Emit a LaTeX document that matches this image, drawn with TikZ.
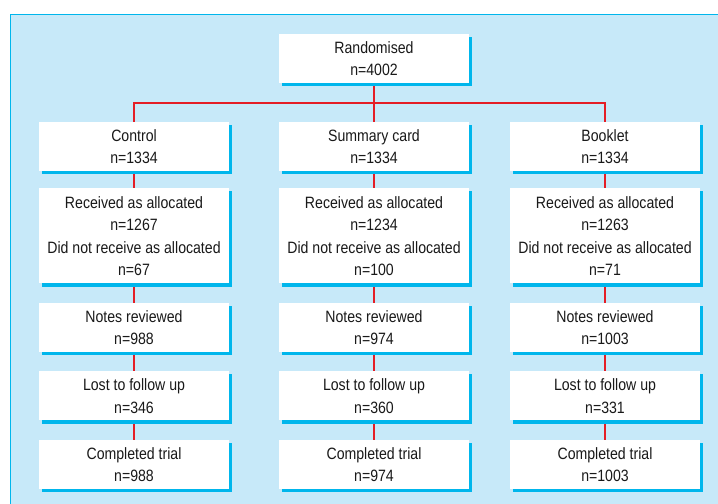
\documentclass[tikz,border=0pt]{standalone}
\usepackage{fontspec}
\setmainfont{Liberation Sans}[FakeStretch=0.86]
\usetikzlibrary{positioning,backgrounds}
\definecolor{bgblue}{RGB}{199,233,249}
\definecolor{edgeblue}{RGB}{0,182,236}
\definecolor{linkred}{RGB}{228,30,38}

\begin{document}
\begin{tikzpicture}[x=0.03cm,y=-0.03cm]

	\tikzstyle{box}     = [rectangle, fill=white, text=black!90, minimum width=5.67cm, minimum height=1.47cm, inner sep=0pt, align=center, font=\fontsize{14}{19.2}\selectfont]
	\tikzstyle{big box} = [box, minimum height=2.85cm]
	\tikzstyle{link}    = [draw=linkred, line width=0.06cm]
	\tikzstyle{shade}   = [fill=edgeblue]

	\useasboundingbox (0,0) rectangle (718,504);

	\node [box] (rand) at (374,58.5) {Randomised\\n=4002};

	% first row
	\node [box] (c1) at (134,146.5) {Control\\n=1334};
	\node [box] (s1) at (374,146.5) {Summary card\\n=1334};
	\node [box] (b1) at (605,146.5) {Booklet\\n=1334};

	% control
	\node [big box] (c2) [below=0.51cm of c1] {Received as allocated\\n=1267\\Did not receive as allocated\\n=67};
	\node [box] (c3) [below=0.57cm of c2] {Notes reviewed\\n=988};
	\node [box] (c4) [below=0.57cm of c3] {Lost to follow up\\n=346};
	\node [box] (c5) [below=0.57cm of c4] {Completed trial\\n=988};

	% summary card
	\node [big box] (s2) [below=0.51cm of s1] {Received as allocated\\n=1234\\Did not receive as allocated\\n=100};
	\node [box] (s3) [below=0.57cm of s2] {Notes reviewed\\n=974};
	\node [box] (s4) [below=0.57cm of s3] {Lost to follow up\\n=360};
	\node [box] (s5) [below=0.57cm of s4] {Completed trial\\n=974};

	% booklet
	\node [big box] (b2) [below=0.51cm of b1] {Received as allocated\\n=1263\\Did not receive as allocated\\n=71};
	\node [box] (b3) [below=0.57cm of b2] {Notes reviewed\\n=1003};
	\node [box] (b4) [below=0.57cm of b3] {Lost to follow up\\n=331};
	\node [box] (b5) [below=0.57cm of b4] {Completed trial\\n=1003};

	\begin{pgfonlayer}{background}
		\fill [bgblue] (10,14) rectangle (718,504);
		\draw [edgeblue, line width=0.8pt] (10,504) -- (10,14) -- (718,14);

		\draw [link] (rand.south) -- ++(0,20) -| (c1.north);
		\draw [link] (rand.south) -- ++(0,20) -| (b1.north);
		\draw [link] (rand.south) -- (s1.north);
		\foreach \col in {c,s,b}
			\foreach \up/\down in {1/2,2/3,3/4,4/5}
				\draw [link] (\col\up.south) -- (\col\down.north);

		% offset shadows
		\foreach \n in {rand,c1,c2,c3,c4,c5,s1,s2,s3,s4,s5,b1,b2,b3,b4,b5}
			\fill [shade] ([shift={(3,3)}]\n.north west) rectangle ([shift={(3,3)}]\n.south east);
	\end{pgfonlayer}
\end{tikzpicture}
\end{document}
